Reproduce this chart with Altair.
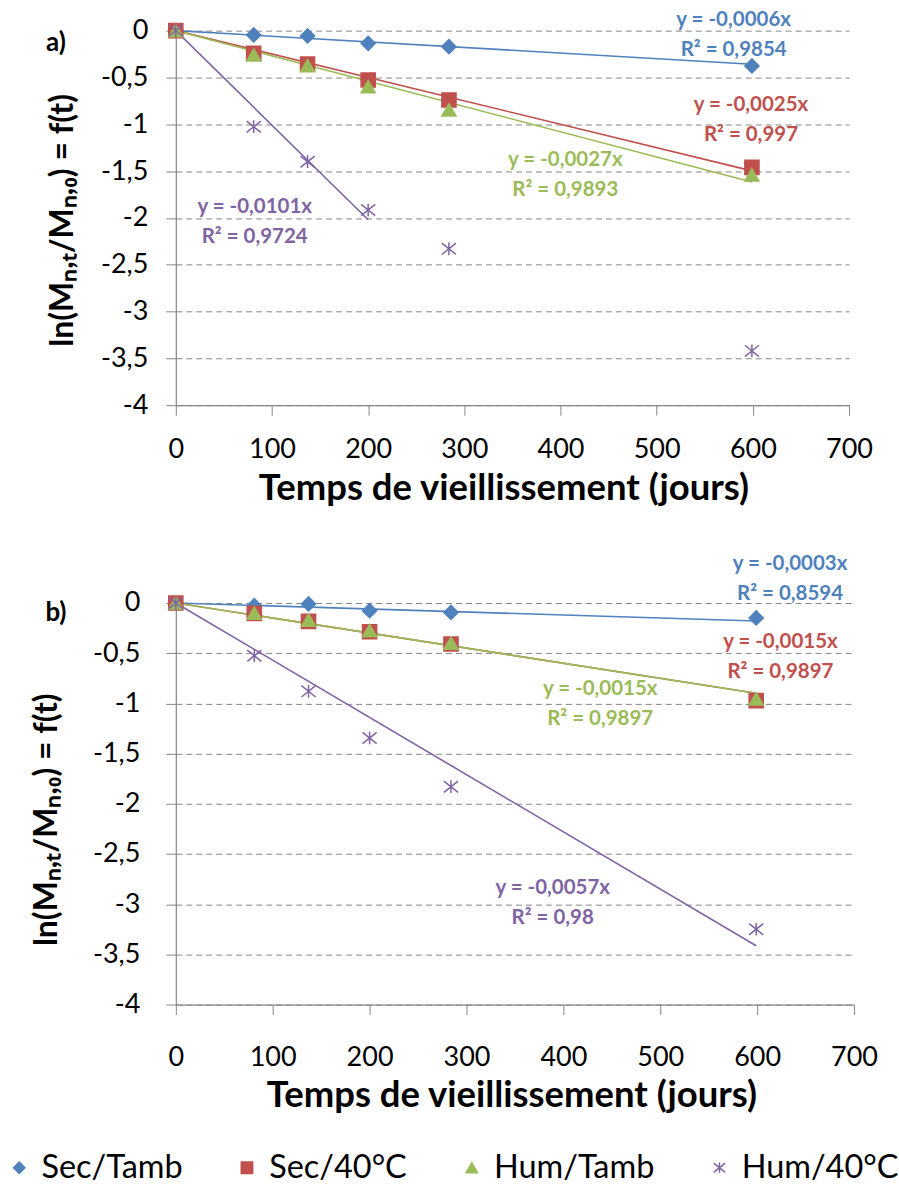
import altair as alt
import pandas as pd

# ---- series definitions -------------------------------------------------
series = ["Sec/Tamb", "Sec/40°C", "Hum/Tamb", "Hum/40°C"]
colors = ["#4F81BD", "#C0504D", "#9BBB59", "#8064A2"]
asterisk = "M-1,-0.8L1,0.8M-1,0.8L1,-0.8M0,-0.9L0,0.9"
shapes = ["diamond", "square", "triangle-up", asterisk]

days = [0, 81, 137, 200, 284, 599]
x_ticks = [0, 100, 200, 300, 400, 500, 600, 700]
y_ticks = [0, -0.5, -1, -1.5, -2, -2.5, -3, -3.5, -4]

# ---- panel a) measured ln(Mn,t/Mn,0) ------------------------------------
a_sec_tamb = [0, -0.046, -0.057, -0.136, -0.171, -0.377]
a_sec_40 = [0, -0.242, -0.356, -0.527, -0.741, -1.46]
a_hum_tamb = [0, -0.26, -0.374, -0.598, -0.847, -1.54]
a_hum_40 = [0, -1.026, -1.40, -1.916, -2.33, -3.42]
a_slopes = [-0.0006, -0.0025, -0.0027, -0.0101]
a_r2 = ["0,9854", "0,997", "0,9893", "0,9724"]
a_fit_end = [599, 599, 599, 200]
a_label_t = [580, 598, 405, 82]
a_label_v = [0.117, -0.794, -1.381, -1.88]

# ---- panel b) -----------------------------------------------------------
b_sec_tamb = [0, -0.027, -0.01, -0.077, -0.094, -0.149]
b_sec_40 = [0, -0.103, -0.183, -0.286, -0.409, -0.973]
b_hum_tamb = [0, -0.10, -0.17, -0.276, -0.40, -0.956]
b_hum_40 = [0, -0.525, -0.88, -1.345, -1.83, -3.25]
b_slopes = [-0.0003, -0.0015, -0.0015, -0.0057]
b_r2 = ["0,8594", "0,9897", "0,9897", "0,98"]
b_fit_end = [599, 599, 599, 599]
b_label_t = [634, 624, 438, 389]
b_label_v = [0.39, -0.39, -0.857, -2.84]

FONT = "Lato"
GRID = "#868686"
Y_TITLE = "ln(Mₙ,ₜ/Mₙ,₀) = f(t)"
X_TITLE = "Temps de vieillissement (jours)"


def comma(v):
    return f"{v:.4f}".replace(".", ",")


def panel(tag, columns, slopes, r2, fit_end, lab_t, lab_v, width, height, geo):
    pts = pd.DataFrame(
        [
            {"t": d, "v": v, "serie": s}
            for s, vals in zip(series, columns)
            for d, v in zip(days, vals)
        ]
    )

    x = alt.X(
        "t:Q",
        scale=alt.Scale(domain=[0, 700], nice=False, zero=False),
        axis=alt.Axis(
            values=x_ticks,
            title=X_TITLE,
            grid=False,
            labelFlush=False,
            labelOverlap=False,
            tickSize=10,
            tickColor=GRID,
            domainColor=GRID,
            domainWidth=1.2,
            labelPadding=geo["xpad"],
            labelFontSize=27,
            labelColor="#000000",
            titleFontSize=36.5,
            titleFontWeight="bold",
            titleColor="#000000",
            titleX=geo["xtx"],
            titleY=geo["xty"],
            titleBaseline="middle",
            titleAlign="center",
        ),
    )
    y = alt.Y(
        "v:Q",
        scale=alt.Scale(domain=[-4, 0], nice=False, zero=False),
        axis=alt.Axis(
            values=y_ticks,
            title=None,
            grid=True,
            gridColor=GRID,
            gridDash=[6, 4],
            gridWidth=1,
            labelExpr="replace(toString(datum.value), '.', ',')",
            labelFlush=False,
            labelOverlap=False,
            tickSize=10,
            tickColor=GRID,
            domainColor=GRID,
            domainWidth=1.2,
            labelPadding=geo["ypad"],
            labelFontSize=27,
            labelColor="#000000",
        ),
    )

    layers = []
    # fitted lines through the origin, drawn from the stated slopes
    for s, c, k, tend in zip(series, colors, slopes, fit_end):
        fit = pd.DataFrame({"t": [0, tend], "v": [0, k * tend]})
        layers.append(
            alt.Chart(fit).mark_line(color=c, strokeWidth=1.6).encode(x=x, y=y)
        )

    scale_c = alt.Scale(domain=series, range=colors)
    layers.append(
        alt.Chart(pts)
        .mark_point(filled=True, size=200, strokeWidth=1.5, opacity=1)
        .encode(
            x=x,
            y=y,
            color=alt.Color("serie:N", scale=scale_c, title=None),
            stroke=alt.Stroke("serie:N", scale=scale_c, title=None),
            shape=alt.Shape(
                "serie:N", scale=alt.Scale(domain=series, range=shapes), title=None
            ),
            order=alt.Order("idx:Q"),
        )
        .transform_calculate(idx=f"indexof({series!r}, datum.serie)")
    )

    # equation and R² annotations
    for s, c, k, r, lt, lv in zip(series, colors, slopes, r2, lab_t, lab_v):
        lab = pd.DataFrame(
            {"t": [lt], "v": [lv], "eq": [f"y = {comma(k)}x"], "r2": [f"R² = {r}"]}
        )
        base = alt.Chart(lab)
        layers.append(
            base.mark_text(
                color=c, fontSize=20.5, fontWeight="bold", align="center", baseline="middle"
            ).encode(x=x, y=y, text="eq:N")
        )
        layers.append(
            base.mark_text(
                color=c,
                fontSize=20.5,
                fontWeight="bold",
                align="center",
                baseline="middle",
                dy=geo["dy"],
            ).encode(x=x, y=y, text="r2:N")
        )

    # vertical axis title, drawn as rotated text beside the tick labels
    layers.append(
        alt.Chart(pd.DataFrame({"title": [Y_TITLE]}))
        .mark_text(
            fontSize=32, fontWeight="bold", angle=270, align="center",
            baseline="middle", color="#000000",
        )
        .encode(x=alt.value(geo["ytx"]), y=alt.value(geo["yty"]), text="title:N")
    )

    # panel tag
    layers.append(
        alt.Chart(pd.DataFrame({"tag": [tag]}))
        .mark_text(fontSize=26, fontWeight="bold", align="center", baseline="middle", color="#000000")
        .encode(x=alt.value(geo["tagx"]), y=alt.value(geo["tagy"]), text="tag:N")
    )

    return alt.layer(*layers).properties(width=width, height=height)


geo_a = dict(xpad=21, xtx=328, xty=83, ypad=18, ytx=-113, yty=190, dy=30, tagx=-120, tagy=12)
geo_b = dict(xpad=30, xtx=336, xty=91, ypad=26, ytx=-129, yty=217, dy=30, tagx=-120, tagy=10)

chart_a = panel(
    "a)",
    [a_sec_tamb, a_sec_40, a_hum_tamb, a_hum_40],
    a_slopes, a_r2, a_fit_end, a_label_t, a_label_v, 674, 375, geo_a,
)
chart_b = panel(
    "b)",
    [b_sec_tamb, b_sec_40, b_hum_tamb, b_hum_40],
    b_slopes, b_r2, b_fit_end, b_label_t, b_label_v, 679, 402, geo_b,
)

chart = (
    alt.vconcat(chart_a, chart_b, spacing=46)
    .properties(padding={"left": 3, "top": 9, "right": 0, "bottom": 2})
    .configure(font=FONT)
    .configure_view(stroke=None)
    .configure_legend(
        orient="none",
        legendX=-173,
        legendY=1122,
        direction="horizontal",
        columns=4,
        columnPadding=48,
        labelFontSize=32.5,
        labelFont=FONT,
        labelColor="#000000",
        labelLimit=400,
        labelOffset=6,
        symbolSize=130,
        symbolStrokeWidth=1.5,
    )
)

chart.save("out.html", embed_options={"renderer": "svg", "actions": False})
